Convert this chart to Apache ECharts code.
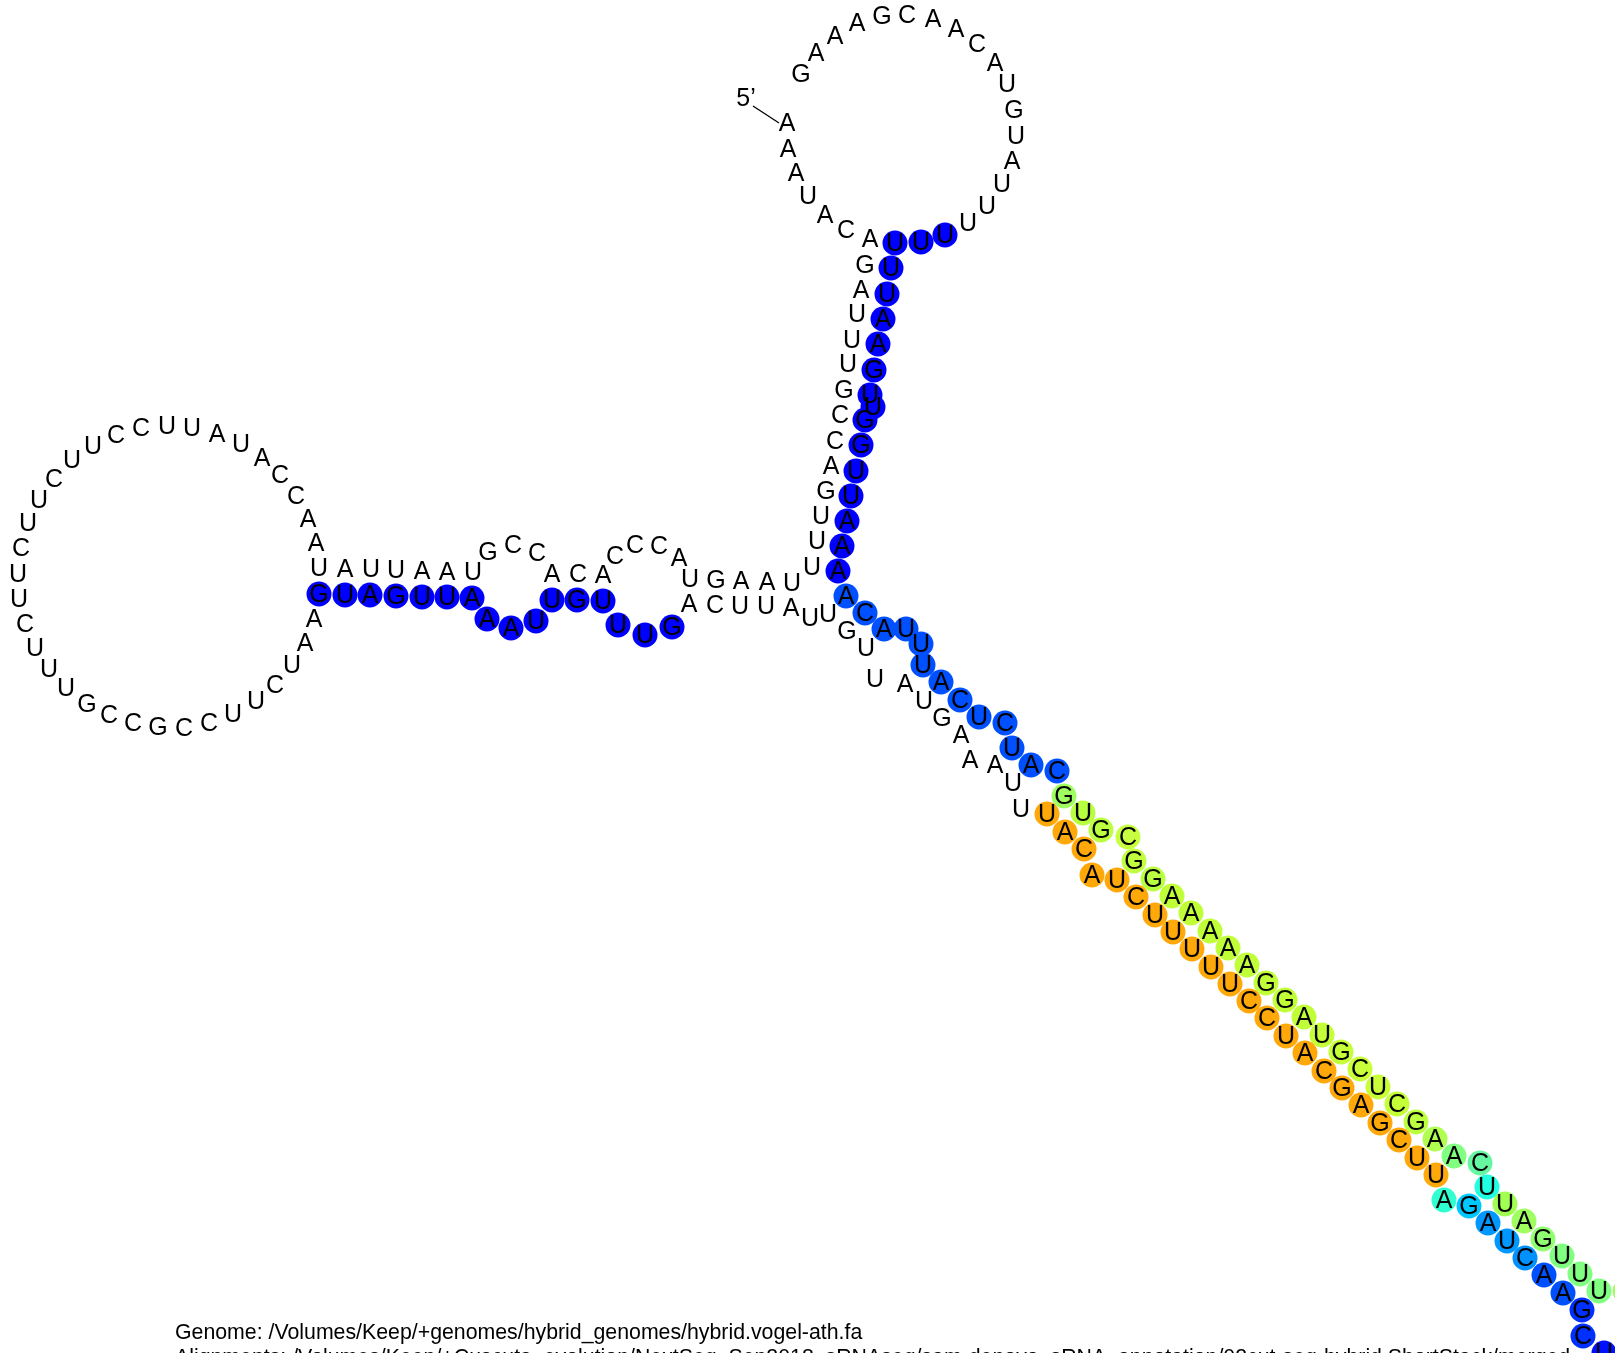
<!DOCTYPE html>
<html><head><meta charset="utf-8">
<style>html,body{margin:0;padding:0;background:#fff}#c{width:1615px;height:1353px}</style>
<script src="https://cdn.jsdelivr.net/npm/echarts@6/dist/echarts.min.js"></script>
</head><body><div id="c"></div>
<script>
const unpairedLetters = ("AAAUACAGAUUU"+"GCCAGUUUUAAGUA"+"CCCACACCGUAAUUAU").split("");
const unpairedPts = [
[787,122],[788,148],[796,172],[808,195],[825,214],[846,229],[870,238],[865,264],[861,289],[857,313],[852,339],[848,363],
[844,389],[840,414],[835,440],[831,465],[826,490],[821,515],[817,540],[812,566],[792,582],[767,581],[741,580],[716,579],[690,578],[679,557],
[659,545],[635,544],[615,555],[603,574],[578,573],[552,573],[537,552],[513,544],[488,551],[473,571],[447,571],[422,570],[396,569],[371,568],[345,568],[319,567]
];
const loopLeftLetters = "AACCAUAUUCCUUCUUCUUCUUUGCCGCCUUCUAA".split("");
const loopLeftPts = [
[316,542],[308,518],[296,495],[280,474],[262,457],[241,443],[217,433],[192,427],[167,425],[141,427],[116,434],[93,445],[72,459],[54,478],[39,499],[28,522],[21,547],[18,573],[19,598],[25,623],[35,647],[49,668],[66,687],[87,703],[109,714],[133,722],[158,726],[184,727],[209,722],[233,713],[256,700],[275,684],[292,664],[305,642],[314,618]
];
const loopTopLetters = "GAAAGCAACAUGUAUUU".split("");
const loopTopPts = [
[801,73],[816,52],[835,35],[857,22],[882,15],[907,14],[933,18],[956,28],[977,43],[995,62],[1007,83],[1014,109],[1016,135],[1012,160],[1002,183],[987,205],[968,222]
];
const lowerLetters = "ACUUAUUGUUAUGAAAUU".split("");
const lowerPts = [
[689,603],[715,604],[740,605],[766,605],[791,607],[810,617],[828,613],[847,630],[866,647],[875,678],[905,683],[924,700],[942,717],[961,734],[970,759],[995,764],[1013,782],[1021,808]
];
const stemLetters = "UUUUUAAGUUGGUUAAA".split("");
const stemPts = [
[945,234],[921,241],[895,242],[891,267],[887,293],[883,318],[878,343],[874,369],[873,406],[870,394],[865,419],[861,444],[856,470],[851,495],[847,520],[842,545],[838,570]
];
const midLetters = "GUAGUUAAAUUGUUUG".split("");
const midPts = [
[319,593],[345,594],[370,594],[396,595],[422,596],[447,596],[472,597],[487,618],[511,627],[536,620],[552,599],[577,599],[603,600],[618,624],[645,634],[672,626]
];
const blueLetters = "ACAUUUACUCUAC".split("");
const bluePts = [
[846,595],[865,612],[884,628],[906,628],[921,643],[923,664],[941,681],[960,699],[979,716],[1005,722],[1012,747],[1031,764],[1057,770]
];
const limeLetters = "GUGCGGAAAAAGGAUGCUCGAA".split("");
const limePts = [
[1064,795],[1083,812],[1101,829],[1128,836],[1134,860],[1153,878],[1172,895],[1191,912],[1210,930],[1228,947],[1247,964],[1266,982],[1285,999],[1304,1016],[1322,1034],[1341,1051],[1360,1068],[1378,1086],[1397,1103],[1416,1121],[1435,1138],[1454,1155]
];
const limeColors = ["#a0ff60","#b8ff40","#bcff40","#c8ff40","#c0ff40","#b8ff40","#c0ff38","#c0ff38","#c0ff38","#c0ff38","#c0ff38","#c0ff38","#c0ff38","#c0ff38","#c4ff38","#c4ff38","#c8ff38","#c8ff38","#c4ff38","#bcff40","#b0ff50","#80ff80"];
const orangeLetters = "UACAUCUUUUUCCUACGAGCUU".split("");
const orangePts = [
[1047,813],[1065,831],[1084,848],[1092,874],[1117,879],[1136,896],[1155,914],[1173,931],[1192,948],[1211,966],[1230,983],[1249,1000],[1267,1017],[1286,1035],[1305,1052],[1324,1070],[1342,1087],[1361,1104],[1380,1122],[1399,1139],[1417,1157],[1436,1174]
];
const tailLetters = ("CUUAGUUUU"+"AGAUCAAGCU").split("");
const tailPts = [
[1480,1162],[1487,1186],[1505,1203],[1524,1220],[1543,1238],[1562,1255],[1580,1273],[1599,1290],[1625,1290],[1444,1199],[1469,1205],[1488,1222],[1507,1240],[1525,1257],[1544,1274],[1563,1292],[1582,1309],[1583,1335],[1604,1352]
];
const tailColors = ["#66f5a0","#20ffe0","#a0ff50","#a0ff60","#90ff70","#80ff80","#80ff80","#80ff80","#a0ff60","#30ffd0","#00c8ff","#0098ff","#0098ff","#0090ff","#0050ff","#0050ff","#0030ff","#0030ff","#0010ff"];
const fivePrimeLine = [[753,105],[779,122]];
const fivePrimeLabel = [[746,97]];
const captionLines = [
 "Genome: /Volumes/Keep/+genomes/hybrid_genomes/hybrid.vogel-ath.fa",
 "Alignments: /Volumes/Keep/+Cuscuta_evolution/NextSeq_Sep2018_sRNAseq/sam-denovo_sRNA_annotation/02cut-seq-hybrid.ShortStack/merged_"
];

const FONT = '"Liberation Sans", Arial, sans-serif';
const FS = 25;
const chart = echarts.init(document.getElementById('c'), null, {renderer:'canvas'});
function pts(p, l, c){
  return p.map((q,i)=>({value:q, name:l[i], itemStyle: c ? {color: Array.isArray(c)?c[i]:c, opacity:1} : {opacity:1}}));
}
const lab = {show:true, position:'inside', offset:[0,1], formatter:'{b}', color:'#000', fontFamily:FONT, fontSize:FS, opacity:1, textBorderWidth:0};
function plain(p,l){
  return {type:'scatter', data:pts(p,l), symbolSize:0, silent:true, clip:false, animation:false,
    itemStyle:{color:'transparent',opacity:1}, label:lab};
}
function circ(p,l,c){
  return {type:'scatter', data:pts(p,l,c), symbol:'circle', symbolSize:25, silent:true, clip:false, animation:false,
    itemStyle:{opacity:1}, label:lab};
}
chart.setOption({
  animation:false,
  backgroundColor:'#fff',
  grid:{left:0,top:0,right:0,bottom:0},
  xAxis:{type:'value',min:0,max:1615,show:false},
  yAxis:{type:'value',min:-1,max:1352,inverse:true,show:false},
  series:[
    plain(unpairedPts,unpairedLetters),
    plain(loopLeftPts,loopLeftLetters),
    plain(loopTopPts,loopTopLetters),
    plain(lowerPts,lowerLetters),
    circ(stemPts,stemLetters,'#0000ff'),
    circ(midPts,midLetters,'#0000ff'),
    circ(bluePts,blueLetters,'#0050ff'),
    circ(limePts,limeLetters,limeColors),
    circ(orangePts,orangeLetters,'#ffa80a'),
    circ(tailPts,tailLetters,tailColors),
    {type:'line',data:fivePrimeLine,symbol:'none',silent:true,lineStyle:{color:'#000',width:1.3,opacity:1},animation:false},
    {type:'scatter',data:[{value:fivePrimeLabel[0],name:"5\u2019"}],symbolSize:0,silent:true,itemStyle:{opacity:1},label:lab}
  ],
  graphic:captionLines.map((t,i)=>({type:'text',left:175,top:1323+i*25,silent:true,
    style:{text:t,fill:'#000',font:'21.3px '+FONT}}))
});
</script></body></html>
